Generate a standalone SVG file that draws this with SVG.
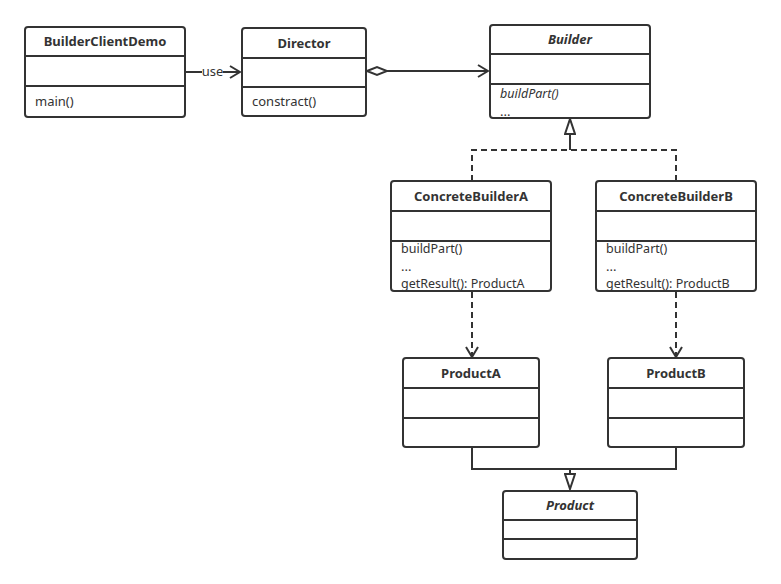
<svg xmlns="http://www.w3.org/2000/svg" width="781" height="584" viewBox="0 0 781 584">
<defs>
<style>
.box{fill:#fff;stroke:#333;stroke-width:2}
.div{stroke:#333;stroke-width:2}
.t{font-family:"Noto Sans","Open Sans",sans-serif;font-size:13px;fill:#333}
.m{font-size:12.5px}
.b{font-weight:bold;text-anchor:middle}
.i{font-style:italic}
.ln{fill:none;stroke:#333;stroke-width:2}
.dash{stroke-dasharray:6 4}
</style>
<marker id="open" viewBox="0 0 12 14" refX="11" refY="7" markerWidth="12" markerHeight="14" markerUnits="userSpaceOnUse" orient="auto">
<path d="M1,1 L11,7 L1,13" fill="none" stroke="#333" stroke-width="2"/>
</marker>
<marker id="tri" viewBox="0 0 17 12" refX="16" refY="6" markerWidth="17" markerHeight="12" markerUnits="userSpaceOnUse" orient="auto">
<path d="M1,1 L16,6 L1,11 Z" fill="#fff" stroke="#333" stroke-width="2"/>
</marker>
<marker id="dia" viewBox="0 0 24 12" refX="1" refY="6" markerWidth="24" markerHeight="12" markerUnits="userSpaceOnUse" orient="auto">
<path d="M1,6 L11,2 L21,6 L11,10 Z" fill="#fff" stroke="#333" stroke-width="2"/>
</marker>
</defs>
<rect width="781" height="584" fill="#fff"/>

<g id="connectors">
<line class="ln" x1="185" y1="72" x2="240" y2="72" marker-end="url(#open)"/>
<rect x="202" y="64" width="21" height="15" fill="#fff"/>
<text class="t" x="212.5" y="76" text-anchor="middle">use</text>
<line class="ln" x1="367" y1="71" x2="488" y2="71" marker-start="url(#dia)" marker-end="url(#open)"/>
<path class="ln dash" d="M472,181 L472,150 L676,150 L676,181"/>
<line class="ln" x1="570" y1="150" x2="570" y2="119" marker-end="url(#tri)"/>
<line class="ln dash" x1="472" y1="292" x2="472" y2="357" marker-end="url(#open)"/>
<line class="ln dash" x1="676" y1="292" x2="676" y2="357" marker-end="url(#open)"/>
<path class="ln" d="M472,448 L472,469 L676,469 L676,448"/>
<line class="ln" x1="570" y1="469" x2="570" y2="489" marker-end="url(#tri)"/>
</g>

<g id="BuilderClientDemo">
<rect class="box" x="25" y="27" width="160" height="90" rx="3"/>
<line class="div" x1="25" y1="56" x2="185" y2="56"/>
<line class="div" x1="25" y1="86" x2="185" y2="86"/>
<text class="t b" x="105" y="46">BuilderClientDemo</text>
<text class="t" x="35" y="106">main()</text>
</g>

<g id="Director">
<rect class="box" x="242" y="28" width="124" height="88" rx="3"/>
<line class="div" x1="242" y1="58" x2="366" y2="58"/>
<line class="div" x1="242" y1="87" x2="366" y2="87"/>
<text class="t b" x="304" y="48">Director</text>
<text class="t" x="252" y="106">constract()</text>
</g>

<g id="Builder">
<rect class="box" x="490" y="25" width="160" height="93" rx="3"/>
<line class="div" x1="490" y1="54" x2="650" y2="54"/>
<line class="div" x1="490" y1="84" x2="650" y2="84"/>
<text class="t b i" x="570" y="44">Builder</text>
<text class="t m i" x="500" y="98">buildPart()</text>
<text class="t" x="500" y="116" font-size="10">...</text>
</g>

<g id="ConcreteBuilderA">
<rect class="box" x="391" y="181" width="160" height="110" rx="3"/>
<line class="div" x1="391" y1="211" x2="551" y2="211"/>
<line class="div" x1="391" y1="241" x2="551" y2="241"/>
<text class="t b" x="471" y="201">ConcreteBuilderA</text>
<text class="t m" x="401" y="253">buildPart()</text>
<text class="t" x="401" y="271" font-size="10">...</text>
<text class="t m" x="401" y="288">getResult(): ProductA</text>
</g>

<g id="ConcreteBuilderB">
<rect class="box" x="596" y="181" width="160" height="110" rx="3"/>
<line class="div" x1="596" y1="211" x2="756" y2="211"/>
<line class="div" x1="596" y1="241" x2="756" y2="241"/>
<text class="t b" x="676" y="201">ConcreteBuilderB</text>
<text class="t m" x="606" y="253">buildPart()</text>
<text class="t" x="606" y="271" font-size="10">...</text>
<text class="t m" x="606" y="288">getResult(): ProductB</text>
</g>

<g id="ProductA">
<rect class="box" x="403" y="358" width="136" height="89" rx="3"/>
<line class="div" x1="403" y1="388" x2="539" y2="388"/>
<line class="div" x1="403" y1="418" x2="539" y2="418"/>
<text class="t b" x="471" y="378">ProductA</text>
</g>

<g id="ProductB">
<rect class="box" x="608" y="358" width="136" height="89" rx="3"/>
<line class="div" x1="608" y1="388" x2="744" y2="388"/>
<line class="div" x1="608" y1="418" x2="744" y2="418"/>
<text class="t b" x="676" y="378">ProductB</text>
</g>

<g id="Product">
<rect class="box" x="503" y="491" width="134" height="68" rx="3"/>
<line class="div" x1="503" y1="520" x2="637" y2="520"/>
<line class="div" x1="503" y1="539" x2="637" y2="539"/>
<text class="t b i" x="570" y="510">Product</text>
</g>
</svg>
